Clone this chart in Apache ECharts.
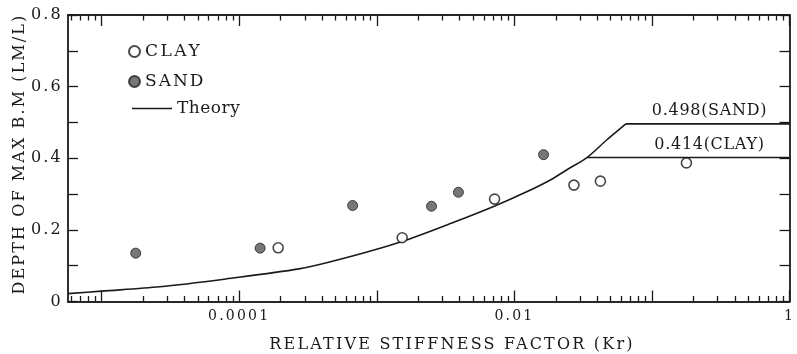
<!DOCTYPE html>
<html>
<head>
<meta charset="utf-8">
<script src="https://cdn.jsdelivr.net/npm/echarts@6/dist/echarts.min.js"></script>
<style>
  html, body { margin: 0; padding: 0; background: #fff; }
  #chart { width: 797px; height: 354px; }
</style>
</head>
<body>
<div id="chart"></div>
<script>
// ---- data ----
const clayX = [1.92e-4, 1.53e-3, 7.18e-3, 0.0271, 0.0422, 0.178];
const clayY = [0.150, 0.178, 0.286, 0.325, 0.336, 0.387];
const sandX = [1.77e-5, 1.42e-4, 6.68e-4, 2.5e-3, 3.92e-3, 0.0163];
const sandY = [0.135, 0.149, 0.268, 0.266, 0.305, 0.410];
const theoryX = [5.7e-6, 1e-5, 2.64e-5, 8e-5, 2.71e-4, 5.42e-4, 1.51e-3, 3.67e-3, 7.14e-3, 0.0124, 0.0184, 0.0241, 0.0337, 0.0469, 0.0646];
const theoryY = [0.022, 0.029, 0.041, 0.063, 0.091, 0.118, 0.167, 0.222, 0.266, 0.307, 0.340, 0.368, 0.402, 0.451, 0.496];
const sandFlatX = [0.0646, 1];
const sandFlatY = [0.496, 0.496];
const clayFlatX = [0.0337, 1];
const clayFlatY = [0.402, 0.402];
const noteX = [0.262, 0.262];
const noteY = [0.496, 0.402];
const noteText = ['0.498(SAND)', '0.414(CLAY)'];

const xMajorTicks = [1e-5, 1e-4, 1e-3, 1e-2, 1e-1, 1];
const xLabelValues = [0.0001, 0.01, 1];
const xLabelText = ['0.0001', '0.01', '1'];
const yLabelText = ['0', '', '0.2', '', '0.4', '', '0.6', '', '0.8'];
const xTitle = 'RELATIVE STIFFNESS FACTOR (Kr)';
const yTitle = 'DEPTH OF MAX B.M (LM/L)';

// minor ticks 2..9 x 10^n inside the axis range
const xMin = 5.7e-6, xMax = 1;
const xMinorTicks = [];
for (let d = -6; d <= -1; d++) {
  for (let m = 2; m <= 9; m++) {
    const v = m * Math.pow(10, d);
    if (v > xMin && v < xMax) xMinorTicks.push(v);
  }
}

// the reference is typeset with wide letter spacing: reproduce it for the titles and legend
const spaced = { [xTitle]: '2.2px', [yTitle]: '2.1px', 'CLAY': '2.5px', 'SAND': '2px', 'Theory': '0.5px',
                 '0.498(SAND)': '0.7px', '0.414(CLAY)': '0.7px' };
(function () {
  const P = CanvasRenderingContext2D.prototype;
  const origFill = P.fillText;
  P.fillText = function (t, x, y, mw) {
    const ls = spaced[t];
    if (ls && 'letterSpacing' in this) {
      const prev = this.letterSpacing;
      this.letterSpacing = ls;
      const r = mw === undefined ? origFill.call(this, t, x, y) : origFill.call(this, t, x, y, mw);
      this.letterSpacing = prev;
      return r;
    }
    return mw === undefined ? origFill.call(this, t, x, y) : origFill.call(this, t, x, y, mw);
  };
})();

const zip = (xs, ys) => xs.map((x, i) => [x, ys[i]]);
const FONT = 'DejaVu Serif';
const INK = '#1a1a1a';

function xLabelFmt(v) {
  for (let i = 0; i < xLabelValues.length; i++) {
    if (Math.abs(Math.log10(v) - Math.log10(xLabelValues[i])) < 1e-6) return xLabelText[i];
  }
  return '';
}

function makeX(position, ticks, len, withLabels) {
  return {
    type: 'log', logBase: 10, min: xMin, max: xMax, position: position,
    axisLine: { show: true, lineStyle: { color: INK, width: 1.6 } },
    axisTick: { show: true, inside: true, length: len, customValues: ticks, lineStyle: { color: INK, width: 1.3 } },
    axisLabel: withLabels ? {
      show: true, customValues: xLabelValues, formatter: xLabelFmt, margin: 8,
      fontFamily: FONT, fontSize: 14, color: INK
    } : { show: false },
    splitLine: { show: false }, minorTick: { show: false }, minorSplitLine: { show: false }
  };
}

function makeY(position, withLabels) {
  return {
    type: 'value', min: 0, max: 0.8, interval: 0.1, position: position,
    axisLine: { show: true, lineStyle: { color: INK, width: 1.8 } },
    axisTick: { show: true, inside: true, length: 10, lineStyle: { color: INK, width: 1.3 } },
    axisLabel: withLabels ? {
      show: true, margin: 5, fontFamily: FONT, fontSize: 16, color: INK,
      formatter: v => yLabelText[Math.round(v * 10)] || ''
    } : { show: false },
    splitLine: { show: false }
  };
}

const chart = echarts.init(document.getElementById('chart'), null, { renderer: 'canvas' });
const legendBase = {
  orient: 'vertical', padding: 0, selectedMode: false,
  textStyle: { fontFamily: FONT, fontSize: 17, color: INK }
};
chart.setOption({
  animation: false,
  backgroundColor: '#fff',
  grid: { left: 68, right: 2, top: 15, bottom: 52.5 },
  xAxis: [
    makeX('bottom', xMajorTicks, 11, true),
    makeX('bottom', xMinorTicks, 5.5, false),
    makeX('top', xMajorTicks, 11, false),
    makeX('top', xMinorTicks, 5.5, false)
  ],
  yAxis: [makeY('left', true), makeY('right', false)],
  legend: [
    Object.assign({}, legendBase, { left: 128, top: 43, itemWidth: 11, itemHeight: 11, data: [{ name: 'CLAY', icon: 'circle' }] }),
    Object.assign({}, legendBase, { left: 128, top: 73, itemWidth: 11, itemHeight: 11, data: [{ name: 'SAND', icon: 'circle' }] }),
    Object.assign({}, legendBase, { left: 132, top: 100, itemWidth: 40, itemHeight: 1.5, data: [{ name: 'Theory', icon: 'rect' }] })
  ],
  graphic: [
    { type: 'text', x: 452, y: 345, style: { text: xTitle, font: '16px "DejaVu Serif"', fill: INK, textAlign: 'center', textVerticalAlign: 'middle' } },
    { type: 'text', x: 20, y: 154, rotation: Math.PI / 2, style: { text: yTitle, font: '16px "DejaVu Serif"', fill: INK, textAlign: 'center', textVerticalAlign: 'middle' } }
  ],
  series: [
    {
      name: 'Theory', type: 'line', data: zip(theoryX, theoryY), smooth: 0.3,
      showSymbol: false, symbol: 'none', lineStyle: { color: INK, width: 1.6 }, itemStyle: { color: INK }, z: 2
    },
    {
      name: 'Theory', type: 'line', data: zip(sandFlatX, sandFlatY), showSymbol: false, symbol: 'none',
      lineStyle: { color: INK, width: 1.6 }, itemStyle: { color: INK }, z: 2
    },
    {
      name: 'Theory', type: 'line', data: zip(clayFlatX, clayFlatY), showSymbol: false, symbol: 'none',
      lineStyle: { color: INK, width: 1.6 }, itemStyle: { color: INK }, z: 2
    },
    {
      name: 'CLAY', type: 'scatter', data: zip(clayX, clayY), symbol: 'circle', symbolSize: 10,
      itemStyle: { color: '#fff', borderColor: INK, borderWidth: 1.6 }, z: 3
    },
    {
      name: 'SAND', type: 'scatter', data: zip(sandX, sandY), symbol: 'circle', symbolSize: 10,
      itemStyle: { color: '#555', borderColor: '#222', borderWidth: 1 }, z: 3
    },
    {
      name: 'notes', type: 'scatter', symbolSize: 0, silent: true,
      data: noteX.map((x, i) => ({ value: [x, noteY[i]], label: { formatter: noteText[i] } })),
      label: { show: true, position: 'top', distance: 5, fontFamily: FONT, fontSize: 16, color: INK, opacity: 1 },
      itemStyle: { opacity: 1 }
    }
  ]
});
</script>
</body>
</html>
